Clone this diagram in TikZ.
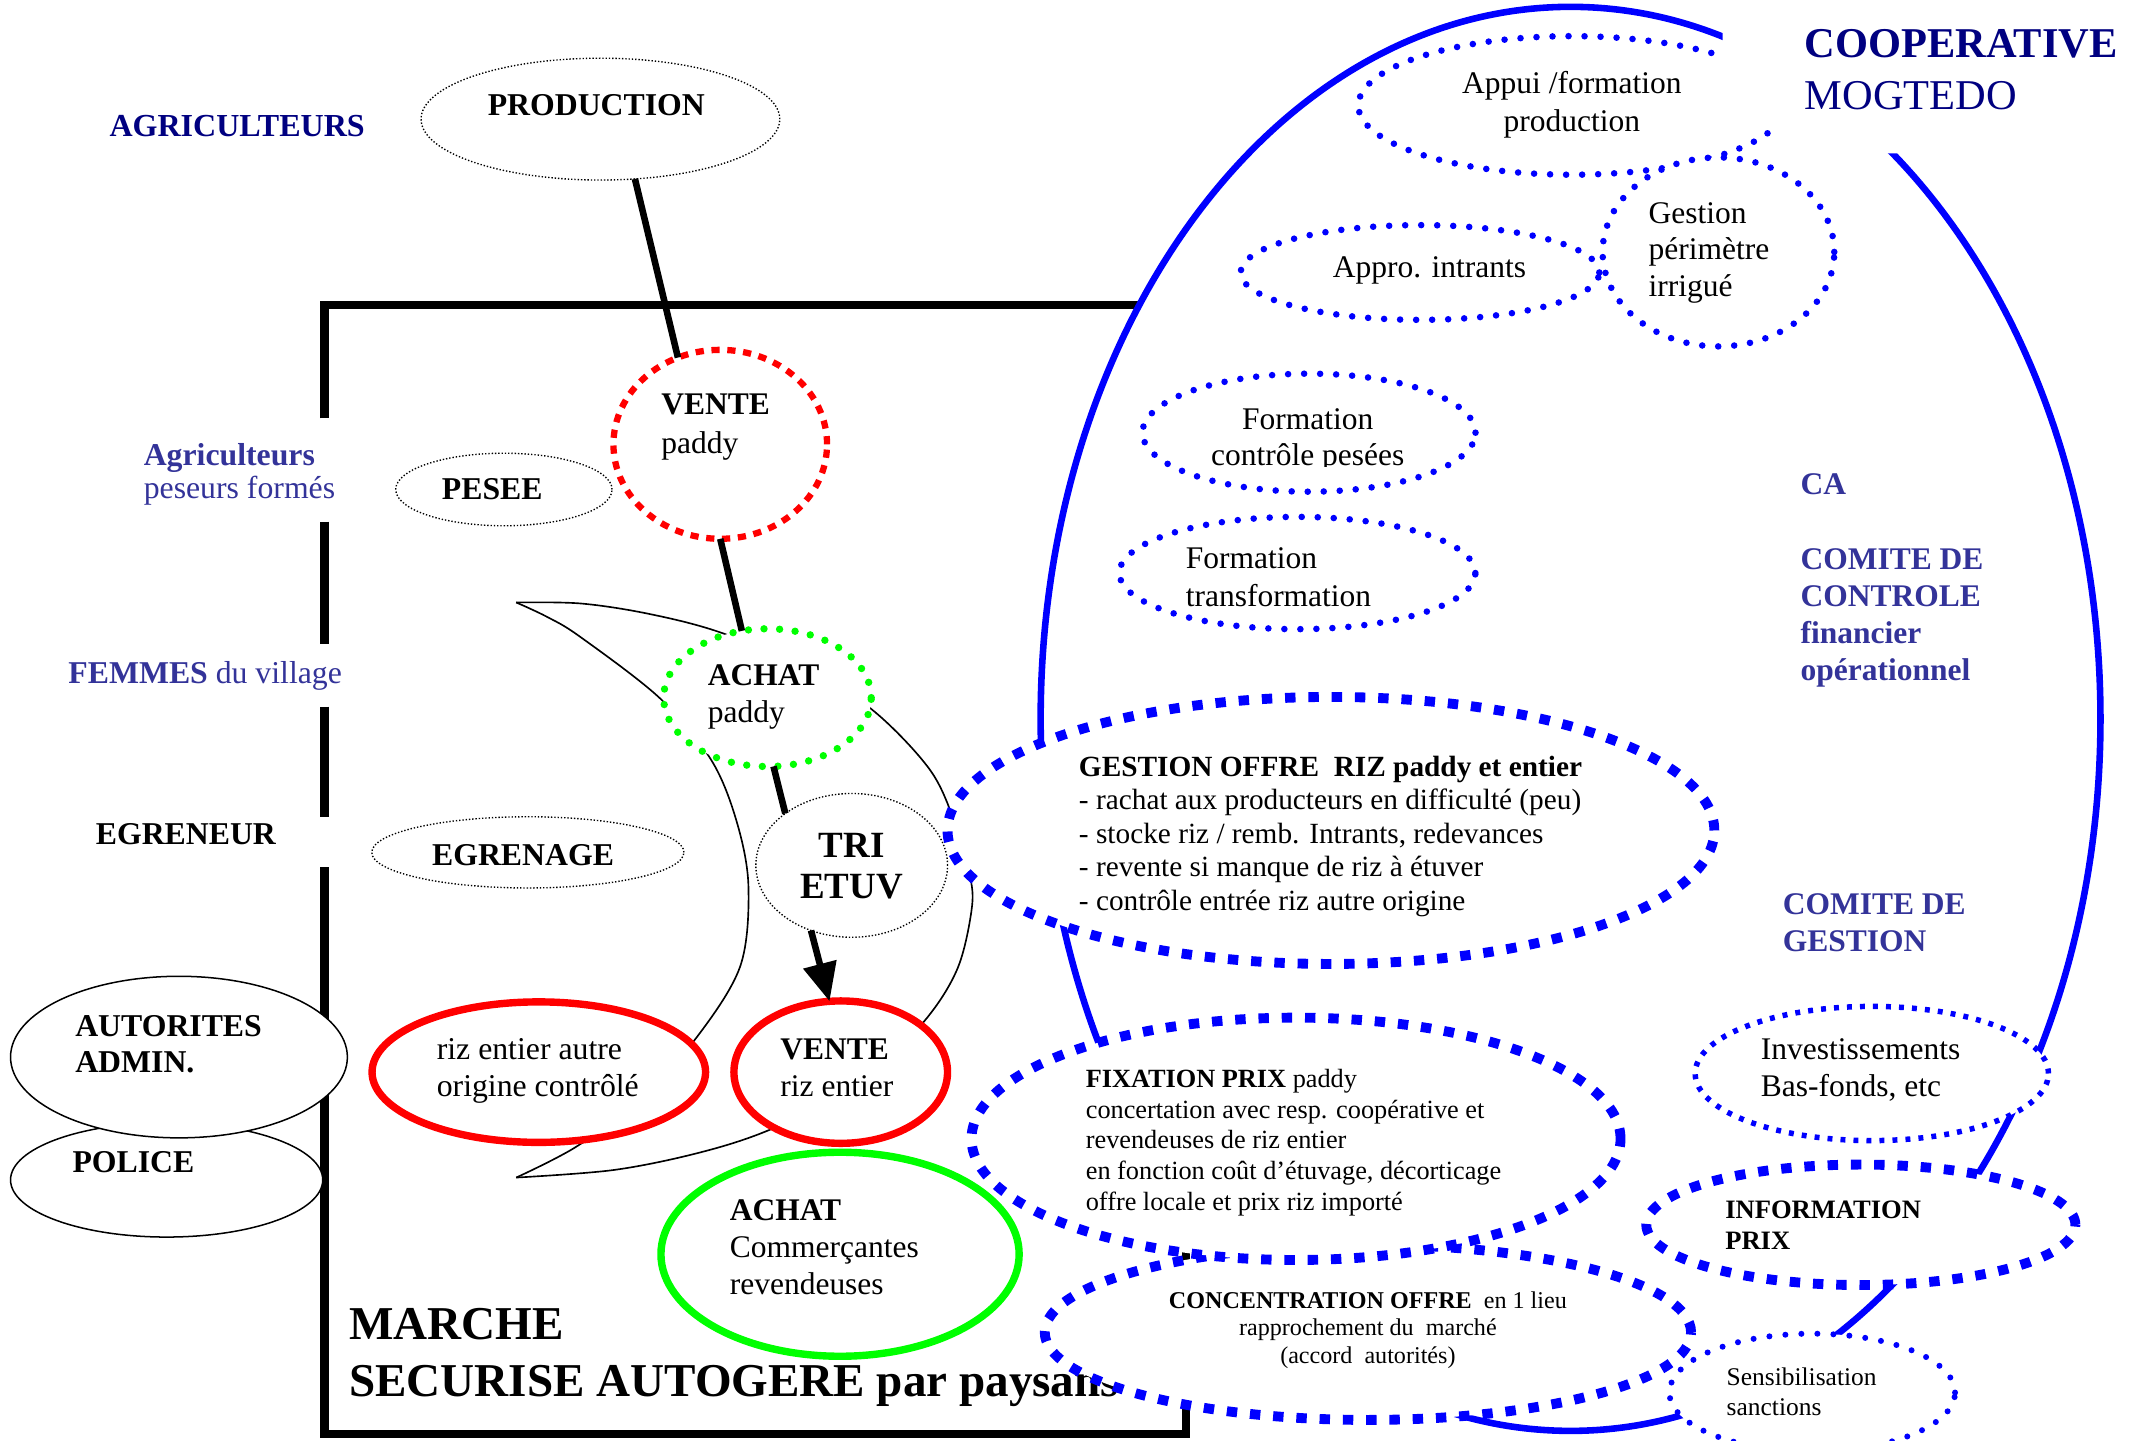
\documentclass[tikz,border=0pt]{standalone}
\usepackage{fontspec}
\setmainfont{Liberation Serif}
\usetikzlibrary{shapes.geometric,arrows.meta}
\definecolor{navyc}{HTML}{000080}
\definecolor{pblue}{HTML}{333399}
\definecolor{redc}{HTML}{FF0000}
\definecolor{greenc}{HTML}{00FF00}
\definecolor{bluec}{HTML}{0000FF}
\newcommand{\myfs}[2]{\fontsize{#1}{#2}\selectfont}
\begin{document}
\begin{tikzpicture}[x=0.5pt,y=-0.5pt,
  ell/.style={ellipse,inner sep=0pt,outer sep=0pt,fill=white},
  thindot/.style={ell,draw=black,line width=0.5pt,dash pattern=on 0.5pt off 0.7pt},
  thinsolid/.style={ell,draw=black,line width=0.55pt},
  reddash/.style={ell,draw=redc,line width=2.3pt,dash pattern=on 3pt off 2.8pt},
  greendot/.style={ell,draw=greenc,line width=2.7pt,line cap=round,dash pattern=on 0pt off 5.7pt},
  redsolid/.style={ell,draw=redc,line width=2.7pt},
  greensolid/.style={ell,draw=greenc,line width=2.7pt},
  bluedot/.style={ell,draw=bluec,line width=2.4pt,line cap=round,dash pattern=on 0pt off 5.85pt},
  bluefine/.style={ell,draw=bluec,line width=2pt,dash pattern=on 1.8pt off 2.95pt},
  bluedash/.style={ell,draw=bluec,line width=3.6pt,dash pattern=on 3.8pt off 4.7pt},
  conn/.style={draw=black,line width=2.4pt},
  txt/.style={inner sep=0pt,outer sep=0pt,anchor=base west,align=left},
  ctxt/.style={inner sep=0pt,outer sep=0pt,anchor=base,align=center},
  crescentline/.style={draw=black,line width=0.6pt},
  marchebox/.style={draw=black,line width=3pt},
]
\useasboundingbox (0,0) rectangle (1568,1052.4);

% market frame
\draw[marchebox] (237,305.5) -- (237,223) -- (866,223) -- (866,1047) -- (237,1047) -- (237,633);
\draw[marchebox] (237,381) -- (237,470);
\draw[marchebox] (237,516) -- (237,597);

% cooperative outline
\node[ell,draw=bluec,line width=2.4pt,minimum width=387pt,minimum height=520pt] (coop) at (1147,525) {};
\node[bluedot,minimum width=156pt,minimum height=50.6pt] (appui) at (1148,77) {};
\fill[white] (1258,-2) -- (1570,-2) -- (1570,112) -- (1340,112) -- (1340,92) -- (1258,92) -- cycle;
\node[txt,text=navyc,font=\myfs{15.5}{19}] (coopt) at (1318,80) {\textbf{COOPERATIVE}\\MOGTEDO};
\node[ctxt,font=\myfs{11.5}{14}] (appuit) at (1148,96) {Appui /formation\\production};

% crescent
\draw[crescentline] plot[smooth,tension=0.55] coordinates {(377,440) (423.6,440.7) (472.3,448) (524.7,461.4) (590,488) (639,520) (679,562) (697,600) (708.5,640) (709.5,665) (699,708) (674,747) (625,795) (560,826) (508.8,842.3) (448,854.5) (377,860)};
\draw[crescentline] plot[smooth,tension=0.55] coordinates {(377,440) (399.3,450.4) (423.6,465) (482,510) (519.4,555) (538,600) (546.6,647.6) (540.5,706) (507.4,759.4) (465,805) (420,838) (377,860)};

% market title
\node[txt,font=\myfs{17.2}{21}\bfseries] (marche) at (255,1020) {MARCHE\\SECURISE AUTOGERE par paysans};

% left labels
\node[txt,text=navyc,font=\myfs{11.7}{14}\bfseries] (agri) at (80,100) {AGRICULTEURS};
\node[txt,text=pblue,font=\myfs{11.6}{12}] (agrip) at (105,364) {\textbf{Agriculteurs}\\peseurs formés};
\node[txt,text=pblue,font=\myfs{11.6}{14}] (femmes) at (50,499) {\textbf{FEMMES} du village};
\node[txt,font=\myfs{11.6}{14}\bfseries] (egreneur) at (70,617) {EGRENEUR};

% market chain
\node[thindot,minimum width=131pt,minimum height=44.5pt] (prod) at (438.5,87) {};
\node[ctxt,font=\myfs{11.6}{14}\bfseries] (prodt) at (435.5,84) {PRODUCTION};
\node[reddash,minimum width=78pt,minimum height=69pt] (vp) at (526,324.5) {};
\node[txt,font=\myfs{11.5}{14}] (vpt) at (483,331) {\textbf{VENTE}\\paddy};
\node[thindot,minimum width=79pt,minimum height=26.5pt] (pesee) at (368,357.5) {};
\node[ctxt,font=\myfs{11.6}{14}\bfseries] (peseet) at (359.5,365) {PESEE};
\node[greendot,minimum width=75.8pt,minimum height=50.3pt] (ap) at (560.5,509.5) {};
\node[txt,font=\myfs{11.5}{13.5}] (apt) at (517,528) {\textbf{ACHAT}\\paddy};
\node[thindot,minimum width=70pt,minimum height=52.5pt] (te) at (622,632) {};
\node[ctxt,font=\myfs{13.5}{15}\bfseries] (tet) at (622,656) {TRI\\ETUV};
\node[thindot,minimum width=114pt,minimum height=26pt] (egr) at (385.5,622.5) {};
\node[ctxt,font=\myfs{11.6}{14}\bfseries] (egrt) at (382,632) {EGRENAGE};
\node[redsolid,minimum width=121.8pt,minimum height=51.3pt] (ra) at (393.5,783) {};
\node[txt,font=\myfs{11.6}{13.7}] (rat) at (319,801) {riz entier autre\\origine contrôlé};
\node[redsolid,minimum width=78pt,minimum height=52pt] (vr) at (614,783) {};
\node[txt,font=\myfs{11.5}{13.5}] (vrt) at (570,801) {\textbf{VENTE}\\riz entier};
\node[greensolid,minimum width=130.8pt,minimum height=74.5pt] (ac) at (613.5,916) {};
\node[txt,font=\myfs{11.5}{13.5}] (act) at (533,945.5) {\textbf{ACHAT}\\Commerçantes\\revendeuses};
\node[thinsolid,minimum width=114pt,minimum height=41.75pt] (pol) at (121.7,861.7) {};
\node[txt,font=\myfs{11.6}{14}\bfseries] (polt) at (53,856) {POLICE};
\node[thinsolid,minimum width=123pt,minimum height=59pt] (aut) at (130.7,772) {};
\node[txt,font=\myfs{11.6}{13}\bfseries] (autt) at (55,783) {AUTORITES\\ADMIN.};

% cooperative activities
\node[bluedot,minimum width=131pt,minimum height=34.6pt] (appro) at (1037,199) {};
\node[ctxt,font=\myfs{11.5}{14}] (approt) at (1044,203) {Appro. intrants};
\node[bluedot,minimum width=84.6pt,minimum height=69pt] (gest) at (1255,184) {};
\node[txt,font=\myfs{11.5}{13.3}] (gestt) at (1204,216.2) {Gestion\\périmètre\\irrigué};
\node[bluedot,minimum width=121.6pt,minimum height=43.1pt] (fc) at (956,316) {};
\begin{scope}
\clip (850,280) rectangle (1060,341);
\node[ctxt,font=\myfs{11.5}{13}] (fct) at (955,340) {Formation\\contrôle pesées};
\end{scope}
\node[bluedot,minimum width=130pt,minimum height=41pt] (ft) at (947.5,418.5) {};
\begin{scope}
\clip (850,380) rectangle (1060,444);
\node[txt,font=\myfs{11.5}{14}] (ftt) at (866,443) {Formation\\transformation};
\end{scope}
\node[bluedash,minimum width=280pt,minimum height=97.5pt] (go) at (972,606.5) {};
\node[txt,font=\myfs{10.7}{12.2}] (got) at (788,664.6) {\textbf{GESTION OFFRE\ \ RIZ paddy et entier}\\- rachat aux producteurs en difficulté (peu)\\- stocke riz / remb. Intrants, redevances\\- revente si manque de riz à étuver\\- contrôle entrée riz autre origine};
\node[bluedash,minimum width=236pt,minimum height=64pt] (co) at (999,973) {};
\node[ctxt,font=\myfs{8.8}{10}] (cot) at (999,995.5) {\textbf{CONCENTRATION OFFRE}\ \ en 1 lieu\\rapprochement du\ \ marché\\(accord\ \ autorités)};
\node[bluedash,minimum width=237pt,minimum height=88.5pt] (fx) at (946.5,831.7) {};
\node[txt,font=\myfs{9.6}{11.25}] (fxt) at (793,884) {\textbf{FIXATION PRIX} paddy\\concertation avec resp. coopérative et\\revendeuses de riz entier\\en fonction coût d’étuvage, décorticage\\offre locale et prix riz importé};
\node[bluefine,minimum width=129pt,minimum height=49pt] (inv) at (1367,784) {};
\node[txt,font=\myfs{11.5}{13.5}] (invt) at (1286,801) {Investissements\\Bas-fonds, etc};
\node[bluedash,minimum width=156.7pt,minimum height=44pt] (ip) at (1359,894.5) {};
\node[txt,font=\myfs{9.7}{11.2}\bfseries] (ipt) at (1260,912.4) {INFORMATION\\PRIX};
\node[bluedot,line width=2.2pt,minimum width=104.3pt,minimum height=43pt] (sen) at (1323.5,1017) {};
\node[txt,font=\myfs{9.3}{11.25}] (sent) at (1261,1034) {Sensibilisation\\sanctions};

% right labels
\node[txt,text=pblue,font=\myfs{11.5}{13.5}\bfseries] (ca) at (1315,361.5) {CA};
\node[txt,text=pblue,font=\myfs{11.5}{13.5}\bfseries] (cc) at (1315,497) {COMITE DE\\CONTROLE\\financier\\opérationnel};
\node[txt,text=pblue,font=\myfs{11.5}{13.5}\bfseries] (cg) at (1302,695) {COMITE DE\\GESTION};

% connectors
\draw[conn] (prod.-60) -- (vp.116);
\draw[conn] (vp.-90) -- (ap.111);
\draw[conn] (ap.-85) -- (te.142);
\draw[conn,-{Triangle[length=14pt,width=12pt]}] (te.-122) -- (vr.99);
\end{tikzpicture}
\end{document}
